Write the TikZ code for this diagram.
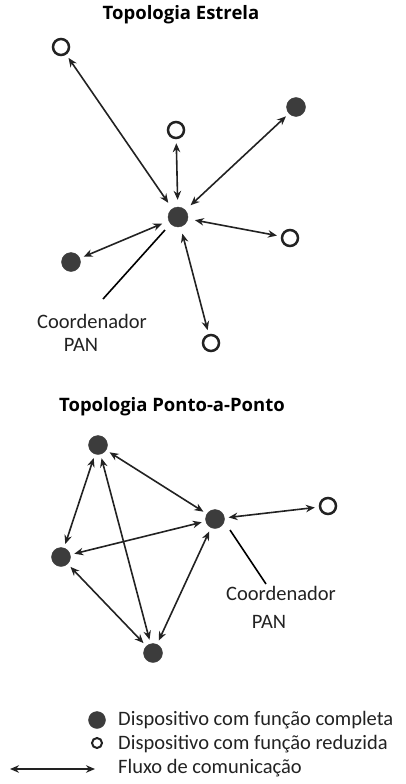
\documentclass[tikz,border=0pt]{standalone}
\usepackage{fontspec}
\setmainfont{Carlito}
\newfontfamily\titlefont{Open Sans}
\usetikzlibrary{arrows.meta}

\definecolor{devgray}{HTML}{3C3C3C}
\definecolor{inkgray}{HTML}{222222}

\tikzset{
  full/.style={circle, fill=devgray, draw=devgray, minimum size=19pt, inner sep=0pt},
  reduced/.style={circle, draw=inkgray, line width=2.5pt, minimum size=16pt, inner sep=0pt},
  link/.style={{Stealth[length=9pt,width=7.5pt]}-{Stealth[length=9pt,width=7.5pt]}, line width=1.6pt, draw=inkgray, shorten <=4pt, shorten >=4pt},
  pointer/.style={line width=1.6pt, draw=black},
  heading/.style={font=\titlefont\bfseries\fontsize{18.5}{22}\selectfont, text=black},
  label/.style={font=\fontsize{20.5}{24}\selectfont, text=inkgray, inner sep=0pt},
}

\begin{document}
\begin{tikzpicture}[x=1pt,y=-1pt]
\useasboundingbox (0,0) rectangle (406,784);

\node[heading] (startitle) at (181,15) {Topologia Estrela};
\node[full, minimum size=20pt] (scoord) at (178,217) {};
\node[reduced] (s1) at (61,47) {};
\node[reduced] (s2) at (176,130) {};
\node[full] (s3) at (296,107) {};
\node[reduced] (s4) at (290,238) {};
\node[full] (s5) at (71,262) {};
\node[reduced] (s6) at (211,343) {};

\draw[link, shorten <=7pt] (scoord) -- (s1);
\draw[link, shorten <=7pt] (scoord) -- (s2);
\draw[link, shorten <=7pt] (scoord) -- (s3);
\draw[link, shorten <=7pt] (scoord) -- (s4);
\draw[link, shorten <=7pt] (scoord) -- (s5);
\draw[link, shorten <=7pt] (scoord) -- (s6);

\node[label] (slabel) at (92,321) {Coordenador};
\node[label] (span) at (81,345) {PAN};
\coordinate (stip) at (165,230);
\draw[pointer] (103,299) -- (stip);

\node[heading] (p2ptitle) at (172,407) {Topologia Ponto-a-Ponto};
\node[full] (pcoord) at (215,519) {};
\node[full] (pa) at (98,445) {};
\node[full] (pl) at (61,557) {};
\node[full] (pb) at (153,653) {};
\node[reduced] (pr) at (328,506) {};

\draw[link] (pa) -- (pcoord);
\draw[link] (pa) -- (pl);
\draw[link] (pa) -- (pb);
\draw[link] (pl) -- (pcoord);
\draw[link] (pl) -- (pb);
\draw[link] (pb) -- (pcoord);
\draw[link] (pcoord) -- (pr);

\node[label] (plabel) at (281,593) {Coordenador};
\node[label] (ppan) at (269,622) {PAN};
\coordinate (ptip) at (230,530);
\draw[pointer] (ptip) -- (266,584);

\node[full, minimum size=17pt] (keyfull) at (97,720) {};
\node[reduced, minimum size=10pt, line width=2pt] (keyreduced) at (97,743) {};
\coordinate (keyleft) at (10,769);
\coordinate (keyright) at (95,769);
\draw[link, shorten <=0pt, shorten >=0pt] (keyleft) -- (keyright);
\node[label, anchor=west] (keyfulltext) at (118,720) {Dispositivo com função completa};
\node[label, anchor=west] (keyredtext) at (118,744) {Dispositivo com função reduzida};
\node[label, anchor=west] (keylinktext) at (118,768) {Fluxo de comunicação};
\end{tikzpicture}
\end{document}
